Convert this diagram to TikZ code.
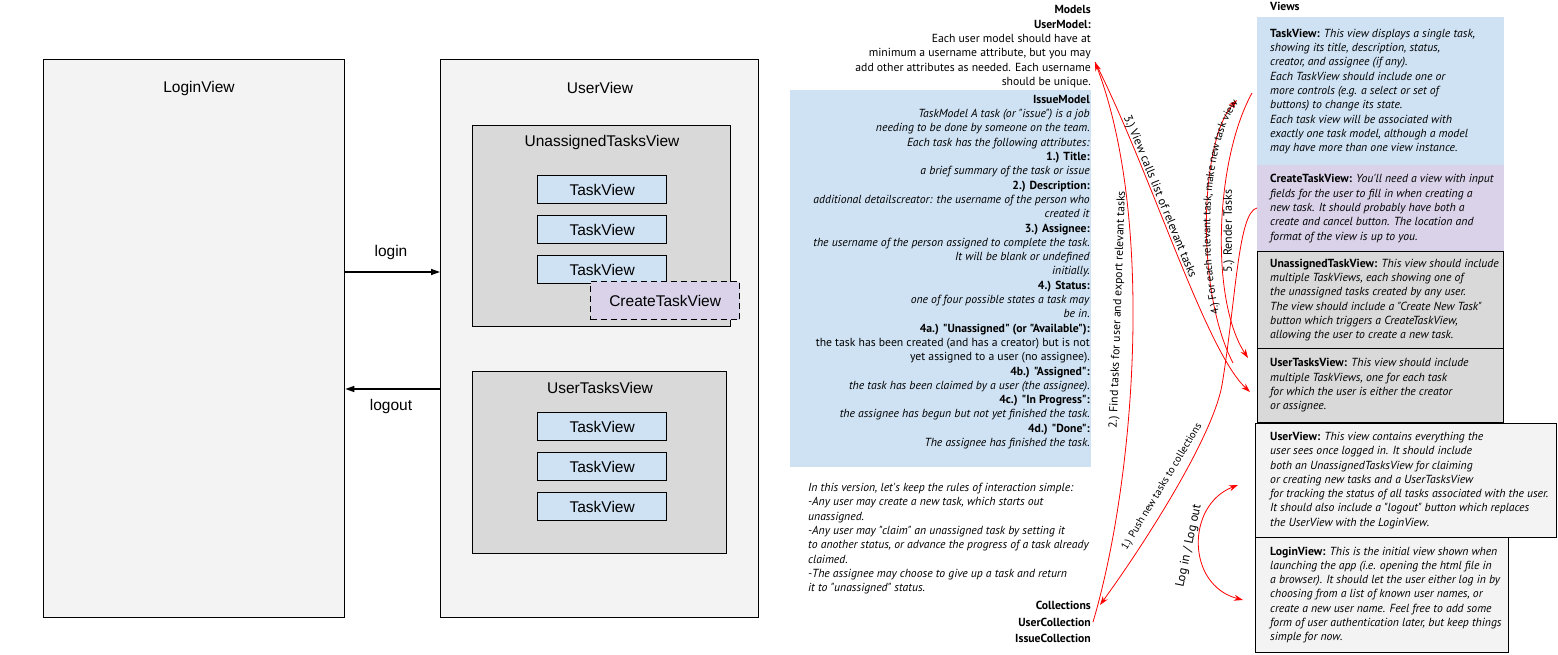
\documentclass[tikz,border=0pt]{standalone}
\usepackage{fontspec}
\setmainfont{Liberation Sans}
\newfontfamily\myr{PT Sans}
\usetikzlibrary{arrows.meta,decorations.text}
\definecolor{lgray}{HTML}{F3F3F3}
\definecolor{mgray}{HTML}{D9D9D9}
\definecolor{lblue}{HTML}{CFE2F3}
\definecolor{lpurp}{HTML}{D9D2E9}
\newcommand{\vhead}[1]{{\upshape\bfseries #1}}
\begin{document}
\begin{tikzpicture}[x=1pt,y=-1pt,
  box/.style={draw=black, line width=1.3pt, inner sep=0pt, anchor=north west},
  big/.style={font=\fontsize{15.5}{18}\selectfont, inner sep=0pt},
  tview/.style={box, fill=lblue, minimum width=129pt, minimum height=28pt, big},
  txt/.style={font=\myr\fontsize{11.7}{14.3}\selectfont, inner sep=0pt},
  itxt/.style={font=\myr\itshape\fontsize{11.7}{14.3}\selectfont, inner sep=0pt, align=left, anchor=west},
  btxt/.style={font=\myr\bfseries\fontsize{11.7}{14.3}\selectfont, inner sep=0pt},
  vbox/.style={anchor=north west, inner sep=0pt, line width=0.9pt},
  redarr/.style={draw=red, line width=0.8pt, -{Stealth[length=9pt,width=6pt]}},
  rlab/.style={font=\myr\fontsize{12}{14}\selectfont, inner sep=0pt},
  blkarr/.style={line width=1.4pt, -{Triangle[length=9pt,width=6pt]}}
]
\useasboundingbox (0,0) rectangle (1558,654);
\fill[white] (0,0) rectangle (1558,654);

% ---------- left diagram ----------
\node[box, fill=lgray, minimum width=301pt, minimum height=558pt] (loginV) at (43,59) {};
\node[big] (loginT) at (199,88) {LoginView};
\node[box, fill=lgray, minimum width=318pt, minimum height=558pt] (userV) at (440,59) {};
\node[big] (userT) at (600,88) {UserView};
\node[box, fill=mgray, minimum width=258pt, minimum height=201pt] (unV) at (472,125) {};
\node[big] (unT) at (602,142) {UnassignedTasksView};
\node[tview] (tv1) at (537,175) {TaskView};
\node[tview] (tv2) at (537,215) {TaskView};
\node[tview] (tv3) at (537,255) {TaskView};
\node[box, dash pattern=on 6pt off 4pt, fill=lpurp, minimum width=149pt, minimum height=38pt, big] (ctv) at (590,281) {CreateTaskView};
\node[box, fill=mgray, minimum width=254pt, minimum height=182pt] (utV) at (472,371) {};
\node[big] (utT) at (600,388) {UserTasksView};
\node[tview] (tv4) at (537,412) {TaskView};
\node[tview] (tv5) at (537,452) {TaskView};
\node[tview] (tv6) at (537,492) {TaskView};

\coordinate (loginY) at (0,272);
\coordinate (logoutY) at (0,389);
\draw[blkarr] (loginV.east |- loginY) -- (userV.west |- loginY);
\draw[blkarr] (userV.west |- logoutY) -- (loginV.east |- logoutY);
\node[big] (loginL) at (391,252) {login};
\node[big] (logoutL) at (391,406) {logout};

% ---------- models ----------
\node[btxt, anchor=north east] (models) at (1091,5) {Models};
\node[txt, anchor=north east, align=right] (umod) at (1091,20) {\textbf{UserModel:}\\Each user model should have at\\minimum a username attribute, but you may\\add other attributes as needed. Each username\\should be unique.};
\node[anchor=north west, fill=lblue, minimum width=301pt, minimum height=377pt, inner sep=0pt] (issueBox) at (790,90) {};
\node[txt, anchor=north east, align=right] (imod) at (1090,95) {\textbf{IssueModel}\\
\textit{TaskModel A task (or "issue") is a job}\\
\textit{needing to be done by someone on the team.}\\
\textit{Each task has the following attributes:}\\
\textbf{1.) Title:}\\
\textit{a brief summary of the task or issue}\\
\textbf{2.) Description:}\\
\textit{additional detailscreator: the username of the person who}\\
\textit{created it}\\
\textbf{3.) Assignee:}\\
\textit{the username of the person assigned to complete the task.}\\
\textit{It will be blank or undefined}\\
\textit{initially.}\\
\textbf{4.) Status:}\\
\textit{one of four possible states a task may}\\
\textit{be in.}\\
\textbf{4a.) "Unassigned" (or "Available"):}\\
the task has been created (and has a creator) but is not\\
yet assigned to a user (no assignee).\\
\textbf{4b.) "Assigned":}\\
\textit{the task has been claimed by a user (the assignee).}\\
\textbf{4c.) "In Progress":}\\
\textit{the assignee has begun but not yet finished the task.}\\
\textbf{4d.) "Done":}\\
\textit{The assignee has finished the task.}};

\node[itxt, anchor=north west] (rules) at (808,483) {In this version, let's keep the rules of interaction simple:\\
-Any user may create a new task, which starts out\\
unassigned.\\
-Any user may "claim" an unassigned task by setting it\\
to another status, or advance the progress of a task already\\
claimed.\\
-The assignee may choose to give up a task and return\\
it to "unassigned" status.};

\node[anchor=north east, align=right, inner sep=0pt, font=\myr\bfseries\fontsize{11.7}{16.5}\selectfont] (coll) at (1091,601) {Collections\\UserCollection\\IssueCollection};

% ---------- views ----------
\coordinate (viewsX) at (1270,0);
\node[btxt, anchor=north west] (views) at (1270,2) {Views};
\node[vbox, fill=lblue, minimum width=247pt, minimum height=148pt] (bTask) at (1257,17) {};
\node[itxt] (tTask) at (bTask.west -| viewsX) {\vhead{TaskView:} This view displays a single task,\\
showing its title, description, status,\\
creator, and assignee (if any).\\
Each TaskView should include one or\\
more controls (e.g. a select or set of\\
buttons) to change its state.\\
Each task view will be associated with\\
exactly one task model, although a model\\
may have more than one view instance.};
\node[vbox, fill=lpurp, minimum width=247pt, minimum height=86pt] (bCreate) at (1257,165) {};
\node[itxt] (tCreate) at (bCreate.west -| viewsX) {\vhead{CreateTaskView:} You'll need a view with input\\
fields for the user to fill in when creating a\\
new task. It should probably have both a\\
create and cancel button. The location and\\
format of the view is up to you.};
\node[vbox, draw=black, fill=mgray, minimum width=246pt, minimum height=97pt] (bUn) at (1257,251) {};
\node[itxt] (tUn) at (bUn.west -| viewsX) {\vhead{UnassignedTaskView:} This view should include\\
multiple TaskViews, each showing one of\\
the unassigned tasks created by any user.\\
The view should include a "Create New Task"\\
button which triggers a CreateTaskView,\\
allowing the user to create a new task.};
\node[vbox, draw=black, fill=mgray, minimum width=246pt, minimum height=74pt] (bUt) at (1257,348) {};
\node[itxt] (tUt) at (bUt.west -| viewsX) {\vhead{UserTasksView:} This view should include\\
multiple TaskViews, one for each task\\
for which the user is either the creator\\
or assignee.};
\node[vbox, draw=black, fill=lgray, minimum width=301pt, minimum height=114pt] (bUser) at (1255,423) {};
\node[itxt] (tUser) at (bUser.west -| viewsX) {\vhead{UserView:} This view contains everything the\\
user sees once logged in. It should include\\
both an UnassignedTasksView for claiming\\
or creating new tasks and a UserTasksView\\
for tracking the status of all tasks associated with the user.\\
It should also include a "logout" button which replaces\\
the UserView with the LoginView.};
\node[vbox, draw=black, fill=lgray, minimum width=253pt, minimum height=115pt] (bLogin) at (1255,537) {};
\node[itxt] (tLogin) at (bLogin.west -| viewsX) {\vhead{LoginView:} This is the initial view shown when\\
launching the app (i.e. opening the html file in\\
a browser). It should let the user either log in by\\
choosing from a list of known user names, or\\
create a new user name. Feel free to add some\\
form of user authentication later, but keep things\\
simple for now.};

% ---------- red connectors ----------
\coordinate (umA) at (1095,62);
\coordinate (a2s) at (1093,622);
\coordinate (utA) at (1250,392);
\coordinate (a4s) at (1233,363);
\coordinate (a4e) at (1237,100);
\coordinate (a5s) at (1252,93);
\coordinate (a5e) at (1248,358);
\coordinate (a1s) at (1257,208);
\coordinate (a1m) at (1222,385);
\coordinate (collA) at (1100,605);
\coordinate (lgS) at (1238,485);
\coordinate (lgE) at (1243,600);

\draw[redarr] (a2s) .. controls (1135,480) and (1155,220) .. (umA);
\draw[redarr] (umA) .. controls (1150,170) and (1205,350) .. (utA);
\draw[redarr] (a4s) .. controls (1195,290) and (1200,140) .. (a4e);
\draw[redarr] (a5s) .. controls (1215,160) and (1210,300) .. (a5e);
\draw[redarr] (a1s) .. controls (1238,212) and (1236,300) .. (a1m) .. controls (1212,440) and (1140,550) .. (collA);
\draw[draw=red, line width=0.8pt, {Stealth[length=9pt,width=6pt]}-{Stealth[length=9pt,width=6pt]}] (lgS) .. controls (1186,505) and (1186,585) .. (lgE);

\node[rlab, font=\myr\fontsize{11.7}{14}\selectfont, rotate=88] (l2) at (1118,310) {2.) Find tasks for user and export relevant tasks};
\path[decorate, decoration={text along path, raise=2.5pt,
  text={|\myr\fontsize{12}{14}\selectfont|3.) View calls list of relevant tasks},
  text align={left indent=62pt}}]
  (umA) .. controls (1150,170) and (1205,350) .. (utA);
\path[decorate, decoration={text along path, raise=-3.5pt,
  text={|\myr\fontsize{11}{13}\selectfont|4.) For each relevant task, make new task view},
  text align={right, right indent=2pt}}]
  (a4s) .. controls (1195,290) and (1200,140) .. (a4e);
\node[rlab, rotate=90] (l5) at (1229,231) {5.) Render Tasks};
\node[rlab, font=\myr\fontsize{10.5}{12}\selectfont, rotate=59] (l1) at (1162,487) {1.) Push new tasks to collections};
\node[rlab, font=\myr\fontsize{12.5}{14}\selectfont, rotate=78] (llog) at (1189,546) {Log in / Log out};
\end{tikzpicture}
\end{document}
